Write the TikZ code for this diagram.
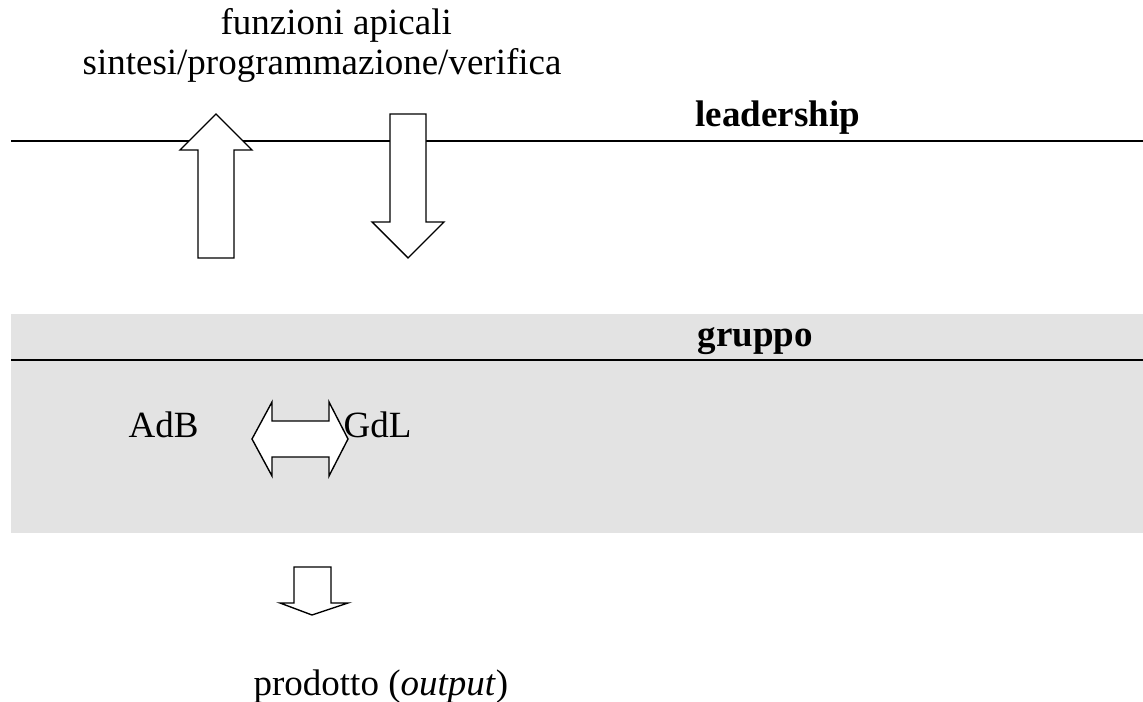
\documentclass[tikz,border=0pt]{standalone}
\usepackage{fontspec}
\setmainfont{Liberation Serif}
\usepackage{tikz}
\usetikzlibrary{%
  calc,%
  positioning%
}
\definecolor{bandgray}{RGB}{227,227,227}
\tikzset{
  lbl/.style={inner sep=0pt,anchor=base west,font=\fontsize{12}{13}\selectfont},
  bigarrow/.style={draw=black,fill=white,line width=0.45pt,line join=miter}
}

\begin{document}
\begin{tikzpicture}[x=0.3243pt,y=-0.3243pt]
\useasboundingbox (0,0) rectangle (1143,702);

% gruppo band
\fill[bandgray] (11,314) rectangle (1143,533);
\draw[line width=0.65pt] (11,360) -- (1143,360);
\node[lbl] (gruppo) at (697,347) {\textbf{gruppo}};

% leadership line
\draw[line width=0.65pt] (11,141) -- (1143,141);
\node[lbl] (leader) at (695,127) {\textbf{leadership}};

\node[lbl] (funz) at (220,35) {funzioni apicali};
\node[lbl] (sint) at (82,75) {sintesi/programmazione/verifica};

% up and down
\draw[bigarrow] (216,114) -- (252,150) -- (234,150) -- (234,258) -- (198,258)
  -- (198,150) -- (180,150) -- cycle;
\draw[bigarrow] (408,258) -- (444,222) -- (426,222) -- (426,114) -- (390,114)
  -- (390,222) -- (372,222) -- cycle;

% AdB <-> GdL
\node[lbl] (adb) at (128,438) {AdB};
\draw[bigarrow] (252,439) -- (272,402) -- (272,421) -- (329,421) -- (329,402)
  -- (348,439) -- (329,476) -- (329,457) -- (272,457) -- (272,476) -- cycle;
\node[lbl] (gdl) at (343,438) {GdL};

% output
\draw[bigarrow] (312,615) -- (348,603) -- (331,603) -- (331,567) -- (294,567)
  -- (294,603) -- (280,603) -- cycle;
\node[lbl] (prod) at (253,695) {prodotto (\textit{output})};
\end{tikzpicture}
\end{document}
